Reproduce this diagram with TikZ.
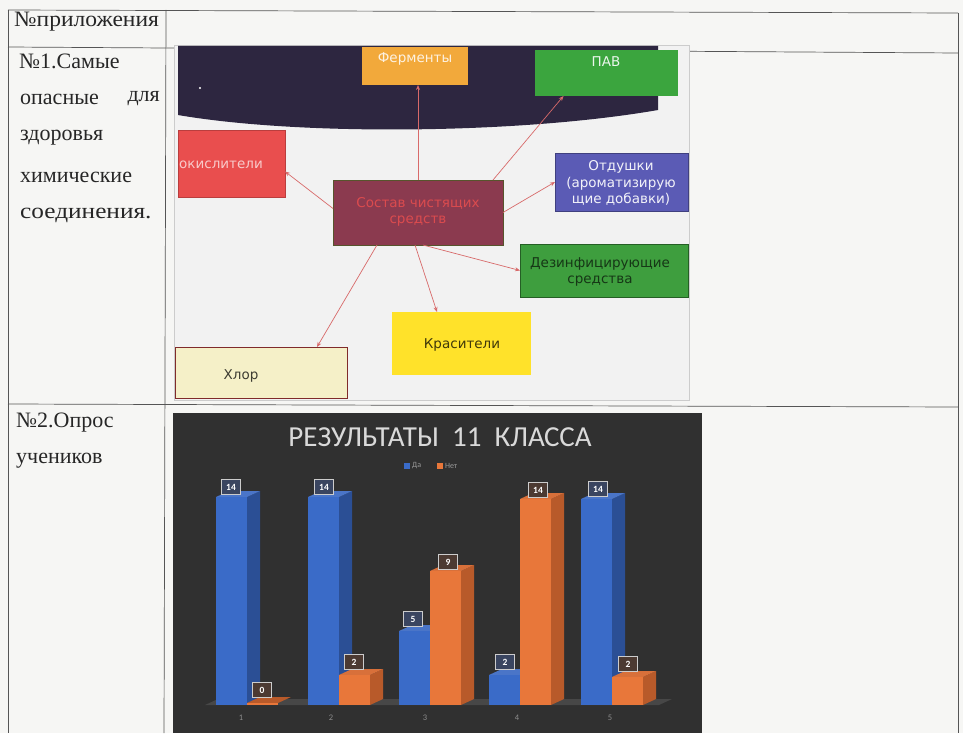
\documentclass[tikz,border=0pt]{standalone}
\usepackage{fontspec}
\setmainfont{Liberation Serif}
\newfontfamily\diagfont{DejaVu Sans}
\newfontfamily\chartfont{Carlito}
\usetikzlibrary{arrows.meta}
\definecolor{paper}{HTML}{F6F6F4}
\definecolor{tblline}{HTML}{555555}
\definecolor{diagbg}{HTML}{F2F2F2}
\definecolor{banner}{HTML}{2D2640}
\definecolor{fermc}{HTML}{F2A93B}
\definecolor{pavc}{HTML}{3BA53E}
\definecolor{okisc}{HTML}{E94E4E}
\definecolor{centc}{HTML}{8B3A4F}
\definecolor{otdc}{HTML}{5B5BB5}
\definecolor{dezc}{HTML}{3E9E3E}
\definecolor{krasc}{HTML}{FFE22A}
\definecolor{hlorc}{HTML}{F5F0C8}
\definecolor{connc}{HTML}{D86A6A}
\definecolor{chartbg}{HTML}{303030}
\definecolor{blueF}{HTML}{3A6BC8}
\definecolor{blueS}{HTML}{2B4F95}
\definecolor{blueT}{HTML}{4A75C8}
\definecolor{oranF}{HTML}{E8773A}
\definecolor{oranS}{HTML}{B85A2A}
\definecolor{oranT}{HTML}{D8703A}
\definecolor{lblB}{HTML}{3A4560}
\definecolor{lblO}{HTML}{4C3A32}
\newcommand{\mybar}[5]{%
  \fill[#5] (#1+31,#2) -- (#1+44,#2-6) -- (#1+44,699) -- (#1+31,705) -- cycle;
  \fill[#4] (#1,#2) -- (#1+13,#2-6) -- (#1+44,#2-6) -- (#1+31,#2) -- cycle;
  \fill[#3] (#1,#2) rectangle (#1+31,705);
}
\tikzset{
  tbl/.style={draw=tblline, line width=0.7pt},
  celltext/.style={font=\fontsize{22}{25}\selectfont, text=black!85, inner sep=0pt},
  dbox/.style={rectangle, inner sep=0pt, outer sep=0pt},
  dtext/.style={font=\diagfont\fontsize{13.5}{16.5}\selectfont, align=center, inner sep=0pt},
  conn/.style={draw=connc, line width=0.7pt, -{Stealth[length=5pt,width=4pt]}},
  vlbl/.style={draw=white!80!black, line width=0.6pt, font=\chartfont\bfseries\fontsize{9.5}{10}\selectfont, text=white, inner sep=1pt, minimum width=19pt, minimum height=15pt},
  xlbl/.style={font=\chartfont\fontsize{8.5}{9}\selectfont, text=white!55!black}
}
\begin{document}
\begin{tikzpicture}[x=1pt,y=-1pt]
\useasboundingbox (0,0) rectangle (963,733);
\fill[paper] (0,0) rectangle (963,733);
% table
\draw[tbl] (8,10) -- (958,13);
\draw[tbl] (8,47) -- (958,53);
\draw[tbl] (8,404) -- (958,407);
\draw[tbl] (8,10) -- (8,733);
\draw[tbl] (166,10) -- (164,733);
\draw[tbl] (958,13) -- (958,733);
% left column text
\node[celltext, anchor=west] (h) at (14,22) {\scalebox{1.07}[1]{№приложения}};
\node[celltext, anchor=west] (r1a) at (19,61) {№1.Самые};
\node[celltext, anchor=west] (r1b) at (20,99) {опасные};
\node[celltext, anchor=east] (r1c) at (160,99) {для};
\node[celltext, anchor=west] (r1d) at (20,138) {здоровья};
\node[celltext, anchor=west] (r1e) at (20,177) {химические};
\node[celltext, anchor=west] (r1f) at (20,215) {\scalebox{1.15}[1]{соединения.}};
\node[celltext, anchor=west] (r2a) at (16,423) {№2.Опрос};
\node[celltext, anchor=west] (r2b) at (16,461) {учеников};
% diagram background
\fill[diagbg, draw=black!20] (174,45) rectangle (689,400);
\fill[banner] (178,46) -- (658,46) -- (658,110) .. controls (520,134) and (300,136) .. (178,115) -- cycle;
\fill[white] (200,88) circle (1.2);
% boxes
\node[dbox, fill=fermc, minimum width=106pt, minimum height=38pt] (ferm) at (415,66) {};
\node[dtext, text=white!85!fermc] (fermT) at (415,59) {Ферменты};
\node[dbox, fill=pavc, minimum width=143pt, minimum height=46pt] (pav) at (606.5,73) {};
\node[dtext, text=white!90!pavc] (pavT) at (606,62) {ПАВ};
\node[dbox, fill=okisc, draw=okisc!80!black, minimum width=107pt, minimum height=67pt] (okis) at (231.5,163.5) {};
\node[dtext, text=white!70!okisc] (okisT) at (221,165) {окислители};
\node[dbox, fill=centc, draw=black!50!olive, minimum width=170pt, minimum height=65pt] (cent) at (418,212.5) {};
\node[dtext, text=okisc!85!centc] (centT) at (418,212) {Состав чистящих\\средств};
\node[dbox, fill=otdc, draw=otdc!70!black, minimum width=133pt, minimum height=58pt] (otd) at (621.5,182) {};
\node[dtext, text=white!92!otdc] (otdT) at (621,183) {Отдушки\\(ароматизирую\\щие добавки)};
\node[dbox, fill=dezc, draw=dezc!60!black, minimum width=168pt, minimum height=53pt] (dez) at (604,270.5) {};
\node[dtext, text=black!65!dezc] (dezT) at (600,272) {Дезинфицирующие\\средства};
\node[dbox, fill=krasc, minimum width=139pt, minimum height=63pt] (kras) at (461.5,343.5) {};
\node[dtext, text=black!75!krasc] (krasT) at (462,345) {Красители};
\node[dbox, fill=hlorc, draw=black!45!okisc, line width=0.8pt, minimum width=172pt, minimum height=51pt] (hlor) at (261,372.5) {};
\node[dtext, text=black!75!hlorc] (hlorT) at (241,376) {Хлор};
% connectors
\draw[conn] (cent.north) -- (cent.north |- ferm.south);
\draw[conn] ([xshift=75pt]cent.north) -- ([xshift=-43pt]pav.south);
\draw[conn] ([yshift=4pt]cent.west) -- ([yshift=-8pt]okis.east);
\draw[conn] (cent.east) -- (otd.west);
\draw[conn] ([xshift=5pt]cent.south) -- (dez.west);
\draw[conn] ([xshift=-3pt]cent.south) -- ([xshift=-24.5pt]kras.north);
\draw[conn] ([xshift=-41pt]cent.south) -- ([xshift=56pt]hlor.north);
% chart
\fill[chartbg] (173,413) rectangle (702,733);
\node[font=\chartfont\fontsize{29}{32}\selectfont, text=white!85!black] (title) at (440,437) {РЕЗУЛЬТАТЫ\ \ 11\ \ КЛАССА};
\fill[blueF] (404,463) rectangle (410,469);
\node[font=\chartfont\fontsize{8}{9}\selectfont, text=white!60!black, anchor=west, inner sep=0pt] (legDa) at (412,466) {Да};
\fill[oranF] (437,463) rectangle (443,469);
\node[font=\chartfont\fontsize{8}{9}\selectfont, text=white!60!black, anchor=west, inner sep=0pt] (legNet) at (445,466) {Нет};
% floor
\fill[black!72] (205,705) -- (218,699) -- (672,699) -- (659,705) -- cycle;
% bars
\mybar{216}{497}{blueF}{blueT}{blueS}
\fill[oranS] (247,703) -- (260,697) -- (291,697) -- (278,703) -- cycle;
\fill[oranF] (247,703) rectangle (278,705);
\mybar{308}{497}{blueF}{blueT}{blueS}
\mybar{339}{675}{oranF}{oranT}{oranS}
\mybar{399}{631}{blueF}{blueT}{blueS}
\mybar{430}{571}{oranF}{oranT}{oranS}
\mybar{489}{675}{blueF}{blueT}{blueS}
\mybar{520}{499}{oranF}{oranT}{oranS}
\mybar{581}{499}{blueF}{blueT}{blueS}
\mybar{612}{677}{oranF}{oranT}{oranS}
% value labels
\node[vlbl, fill=lblB] (v1b) at (231,487) {14};
\node[vlbl, fill=lblO] (v1o) at (262,690) {0};
\node[vlbl, fill=lblB] (v2b) at (324,487) {14};
\node[vlbl, fill=lblO] (v2o) at (354,662) {2};
\node[vlbl, fill=lblB] (v3b) at (413,619) {5};
\node[vlbl, fill=lblO] (v3o) at (448,562) {9};
\node[vlbl, fill=lblB] (v4b) at (505,662) {2};
\node[vlbl, fill=lblO] (v4o) at (538,490) {14};
\node[vlbl, fill=lblB] (v5b) at (598,489) {14};
\node[vlbl, fill=lblO] (v5o) at (628,664) {2};
% x labels
\node[xlbl] (x1) at (241,718) {1};
\node[xlbl] (x2) at (331,718) {2};
\node[xlbl] (x3) at (425,718) {3};
\node[xlbl] (x4) at (517,718) {4};
\node[xlbl] (x5) at (610,718) {5};
\end{tikzpicture}
\end{document}
